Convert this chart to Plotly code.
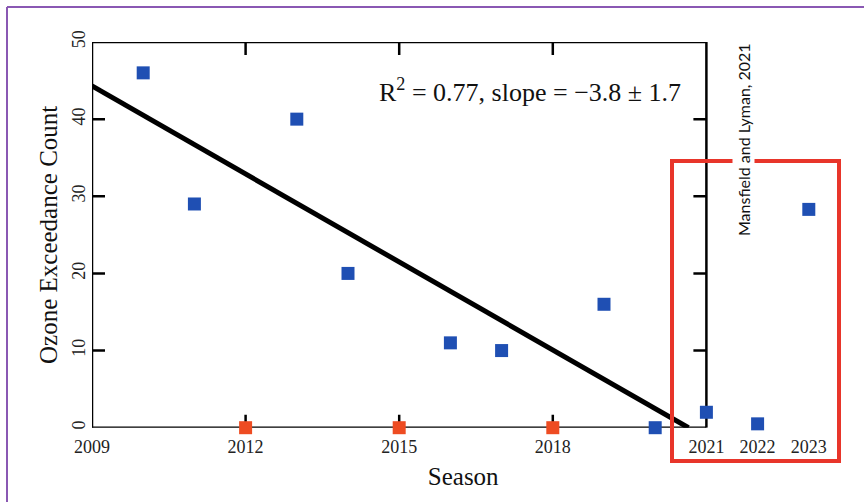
import plotly.graph_objects as go

# ---- data ----
blue_years = [2010, 2011, 2013, 2014, 2016, 2017, 2019, 2020]
blue_counts = [46, 29, 40, 20, 11, 10, 16, 0]
orange_years = [2012, 2015, 2018]
orange_counts = [0, 0, 0]
new_years = [2021, 2022, 2023]
new_counts = [2, 0.5, 28.3]
fit_x = [2009, 2020.65]
fit_y = [44.3, 0]
x_tickvals = [2009, 2012, 2015, 2018, 2021, 2022, 2023]
x_minor_ticks = [2012, 2015, 2018]
y_tickvals = [0, 10, 20, 30, 40, 50]
y_minor_ticks = [10, 20, 30, 40]

W, H = 864, 502
BLUE = "#1f4fb3"
ORANGE = "#ee4c22"
SERIF = "Liberation Serif"

fig = go.Figure()
fig.add_trace(go.Scatter(x=fit_x, y=fit_y, mode="lines",
                         line=dict(color="black", width=5), cliponaxis=False,
                         hoverinfo="skip", showlegend=False))
fig.add_trace(go.Scatter(x=blue_years + new_years, y=blue_counts + new_counts,
                         mode="markers", cliponaxis=False, showlegend=False,
                         marker=dict(symbol="square", size=13, color=BLUE,
                                     line=dict(width=0))))
fig.add_trace(go.Scatter(x=orange_years, y=orange_counts,
                         mode="markers", cliponaxis=False, showlegend=False,
                         marker=dict(symbol="square", size=13, color=ORANGE,
                                     line=dict(width=0))))

# pixel geometry
x_left_px, x_2021_px = 92, 706.4
px_per_year = (x_2021_px - x_left_px) / 12
x_max = 2023.5
x_right_px = x_2021_px + (x_max - 2021) * px_per_year
y_top_px, y_bot_px = 42, 427.7

shapes = []
AX = dict(color="black", width=2.5)
# axis frame (up to 2021)
shapes.append(dict(type="line", xref="x", yref="y", x0=2009, x1=2021, y0=0, y1=0, line=AX, layer="below"))
shapes.append(dict(type="line", xref="x", yref="y", x0=2009, x1=2021, y0=50, y1=50, line=AX, layer="below"))
shapes.append(dict(type="line", xref="x", yref="y", x0=2009, x1=2009, y0=0, y1=50, line=AX, layer="below"))
shapes.append(dict(type="line", xref="x", yref="y", x0=2021, x1=2021, y0=0, y1=50, line=AX, layer="below"))
for xv in x_minor_ticks:
    shapes.append(dict(type="line", xref="x", yref="y", x0=xv, x1=xv, ysizemode="pixel",
                       yanchor=0, y0=0, y1=13, line=AX, layer="below"))
    shapes.append(dict(type="line", xref="x", yref="y", x0=xv, x1=xv, ysizemode="pixel",
                       yanchor=50, y0=0, y1=-13, line=AX, layer="below"))
for yv in y_minor_ticks:
    shapes.append(dict(type="line", xref="x", yref="y", y0=yv, y1=yv, xsizemode="pixel",
                       xanchor=2009, x0=0, x1=13, line=AX, layer="below"))
    shapes.append(dict(type="line", xref="x", yref="y", y0=yv, y1=yv, xsizemode="pixel",
                       xanchor=2021, x0=0, x1=-13, line=AX, layer="below"))
# red highlight box
shapes.append(dict(type="rect", xref="paper", yref="paper",
                   x0=672 / W, x1=839 / W, y0=1 - 461 / H, y1=1 - 161 / H,
                   line=dict(color="#e8352a", width=4), fillcolor="rgba(0,0,0,0)"))
# purple frame
shapes.append(dict(type="line", xref="paper", yref="paper", x0=7 / W, x1=7 / W,
                   y0=0, y1=1 - 7 / H, line=dict(color="#8a58b3", width=2)))
shapes.append(dict(type="line", xref="paper", yref="paper", x0=7 / W, x1=1,
                   y0=1 - 7 / H, y1=1 - 7 / H, line=dict(color="#8a58b3", width=2)))

annotations = [
    dict(xref="paper", yref="paper", x=530 / W, y=1 - 90 / H,
         text="R<sup>2</sup> = 0.77, slope = \u22123.8 \u00b1 1.7", showarrow=False,
         font=dict(family=SERIF, size=26, color="#111"), xanchor="center", yanchor="middle"),
    dict(xref="paper", yref="paper", x=743 / W, y=1 - 140 / H,
         text="Mansfield and Lyman, 2021", showarrow=False, textangle=-90,
         font=dict(family="Lato", size=16, color="#111"), bgcolor="white",
         xanchor="center", yanchor="middle"),
]

fig.update_layout(
    width=W, height=H, margin=dict(l=0, r=0, t=0, b=0, autoexpand=False),
    paper_bgcolor="white", plot_bgcolor="white",
    shapes=shapes, annotations=annotations, showlegend=False,
    xaxis=dict(domain=[x_left_px / W, x_right_px / W], range=[2009, x_max],
               automargin=False,
               showgrid=False, zeroline=False, showline=False, ticks="",
               ticklabelstandoff=6,
               tickvals=x_tickvals, ticktext=[str(v) for v in x_tickvals],
               tickfont=dict(family=SERIF, size=18, color="#222"),
               title=dict(text="Season", font=dict(family=SERIF, size=25, color="#111"), standoff=11)),
    yaxis=dict(domain=[1 - y_bot_px / H, 1 - y_top_px / H], range=[0, 50],
               automargin=False,
               showgrid=False, zeroline=False, showline=False, ticks="",
               ticklabelstandoff=2,
               tickvals=y_tickvals, tickangle=-90,
               tickfont=dict(family=SERIF, size=18, color="#222"),
               title=dict(text="Ozone Exceedance Count", font=dict(family=SERIF, size=25, color="#111"), standoff=4)),
)

fig.write_html("out.html", config={"displayModeBar": False},
               post_script="document.body.style.margin='0';document.body.style.overflow='hidden';")
